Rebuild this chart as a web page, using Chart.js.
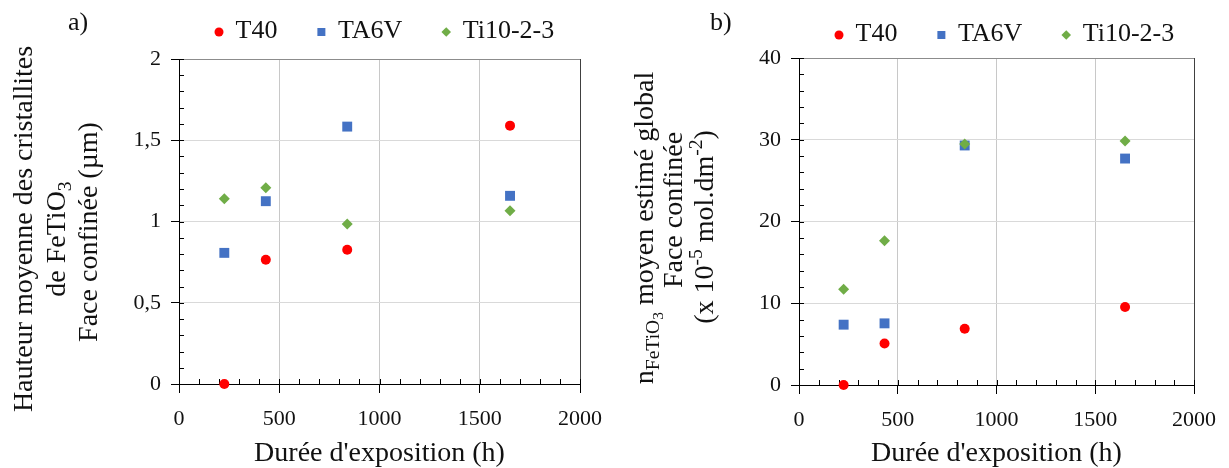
<!DOCTYPE html>
<html>
<head>
<meta charset="utf-8">
<script src="https://cdn.jsdelivr.net/npm/chart.js@4/dist/chart.umd.min.js"></script>
<style>
  html, body { margin: 0; padding: 0; background: #fff; }
  #wrap { position: relative; width: 1229px; height: 468px; }
  canvas { position: absolute; top: 0; }
</style>
</head>
<body>
<div id="wrap">
  <canvas id="c1" width="615" height="468" style="left:0"></canvas>
  <canvas id="c2" width="614" height="468" style="left:615px"></canvas>
</div>
<script>
// Durée d'exposition (h)
const exposition = [226, 433, 839, 1651];
const seriesNames = ["T40", "TA6V", "Ti10-2-3"];

// a) hauteur moyenne des cristallites (µm)
const hauteurT40 = [0, 0.765, 0.826, 1.59];
const hauteurTA6V = [0.807, 1.125, 1.584, 1.158];
const hauteurTi1023 = [1.14, 1.207, 0.984, 1.066];

// b) n FeTiO3 (x 10-5 mol.dm-2)
const nT40 = [0, 5.08, 6.89, 9.55];
const nTA6V = [7.38, 7.54, 29.3, 27.7];
const nTi1023 = [11.72, 17.66, 29.47, 29.84];

const xTicks = [0, 500, 1000, 1500, 2000];
const yTicksA = [0, 0.5, 1, 1.5, 2];
const yTicksB = [0, 10, 20, 30, 40];

const FONT = "'Liberation Serif', 'Times New Roman', serif";
const colors = ["#ff0000", "#4472c4", "#70ad47"];
const styles = ["circle", "rect", "rectRot"];
const radii = [5, 7, 5.5];

function sizeFor(kind, size) {
  if (kind === "sub" || kind === "sup") return size * 0.7;
  if (kind === "subsub") return size * 0.55;
  return size;
}
function shiftFor(kind, size) {
  if (kind === "sub") return size * 0.22;
  if (kind === "subsub") return size * 0.36;
  if (kind === "sup") return -size * 0.38;
  return 0;
}
function richWidth(ctx, parts, size) {
  let w = 0;
  parts.forEach(([t, k]) => {
    ctx.font = sizeFor(k, size) + "px " + FONT;
    w += ctx.measureText(t).width;
  });
  return w;
}
function drawRich(ctx, parts, x, y, size) {
  parts.forEach(([t, k]) => {
    ctx.font = sizeFor(k, size) + "px " + FONT;
    ctx.fillText(t, x, y + shiftFor(k, size));
    x += ctx.measureText(t).width;
  });
}

// titre de l'axe y, sur plusieurs lignes, avec indices
const yTitlePlugin = {
  id: "yTitle",
  afterDraw(chart, args, opts) {
    const ctx = chart.ctx;
    ctx.save();
    ctx.fillStyle = "#111";
    ctx.textBaseline = "alphabetic";
    ctx.textAlign = "left";
    opts.lines.forEach(l => {
      const w = richWidth(ctx, l.parts, opts.size);
      ctx.save();
      ctx.translate(l.x, l.yc);
      ctx.rotate(-Math.PI / 2);
      drawRich(ctx, l.parts, -w / 2, 0, opts.size);
      ctx.restore();
    });
    ctx.font = "26px " + FONT;
    ctx.fillText(opts.panel, opts.panelX, 30);
    ctx.restore();
  }
};

// légende maison, placée au-dessus de la zone de tracé
const legendPlugin = {
  id: "myLegend",
  afterDraw(chart, args, opts) {
    const ctx = chart.ctx;
    const area = chart.chartArea;
    let x = area.left + 40;
    const base = opts.baseline;
    const my = base - 6;
    ctx.save();
    ctx.font = "26px " + FONT;
    ctx.textBaseline = "alphabetic";
    ctx.textAlign = "left";
    chart.data.datasets.forEach((ds, i) => {
      ctx.fillStyle = ds.backgroundColor;
      ctx.beginPath();
      if (ds.pointStyle === "circle") {
        ctx.arc(x, my, 4.5, 0, Math.PI * 2);
      } else if (ds.pointStyle === "rect") {
        ctx.rect(x - 4, my - 4, 8, 8);
      } else {
        ctx.moveTo(x, my - 4.8); ctx.lineTo(x + 4.8, my);
        ctx.lineTo(x, my + 4.8); ctx.lineTo(x - 4.8, my);
        ctx.closePath();
      }
      ctx.fill();
      ctx.fillStyle = "#111";
      const tx = x + 16.5;
      ctx.fillText(ds.label, tx, base);
      x = tx + ctx.measureText(ds.label).width + 44;
    });
    ctx.restore();
  }
};

// petites graduations vers l'intérieur
const minorTicksPlugin = {
  id: "minorTicks",
  beforeDatasetsDraw(chart, args, opts) {
    const ctx = chart.ctx;
    const xs = chart.scales.x, ys = chart.scales.y;
    const a = chart.chartArea;
    ctx.save();
    ctx.strokeStyle = "#000";
    ctx.lineWidth = 1;
    ctx.beginPath();
    for (let v = xs.min; v <= xs.max + 1e-9; v += opts.xStep) {
      const px = Math.round(xs.getPixelForValue(v)) + 0.5;
      ctx.moveTo(px, a.bottom);
      ctx.lineTo(px, a.bottom - 5);
    }
    for (let v = ys.min; v <= ys.max + 1e-9; v += opts.yStep) {
      const py = Math.round(ys.getPixelForValue(v)) + 0.5;
      ctx.moveTo(a.left, py);
      ctx.lineTo(a.left + 5, py);
    }
    ctx.stroke();
    ctx.restore();
  }
};

function makeChart(id, values, yMax, yTicks, opt) {
  const datasets = values.map((vals, i) => ({
    label: seriesNames[i],
    data: exposition.map((x, j) => ({ x: x, y: vals[j] })),
    backgroundColor: colors[i],
    borderColor: colors[i],
    borderWidth: 0,
    pointStyle: styles[i],
    pointRadius: radii[i],
    pointHoverRadius: radii[i],
    clip: false,
    order: [2, 1, 0][i]
  }));
  return new Chart(document.getElementById(id), {
    type: "scatter",
    data: { datasets },
    plugins: [minorTicksPlugin, yTitlePlugin, legendPlugin],
    options: {
      responsive: false,
      animation: false,
      layout: { padding: { top: opt.top, right: opt.right, left: 0, bottom: 0 } },
      plugins: {
        legend: { display: false },
        tooltip: { enabled: false },
        minorTicks: { xStep: 100, yStep: opt.minor },
        yTitle: opt.yTitle,
        myLegend: { baseline: opt.legendBase }
      },
      scales: {
        x: {
          type: "linear",
          min: 0, max: 2000,
          afterFit: s => { s.height = opt.xHeight; },
          afterBuildTicks: s => { s.ticks = xTicks.map(v => ({ value: v })); },
          ticks: {
            font: { family: FONT, size: 22 },
            color: "#111",
            padding: 13,
            maxRotation: 0,
            callback: v => String(v)
          },
          grid: {
            color: c => c.tick.value === 0 ? "rgba(0,0,0,0)" : (c.tick.value === 2000 ? "#404040" : "#c8c8c8"),
            tickColor: "#000",
            tickLength: 9,
            lineWidth: 1
          },
          border: { color: "#000", width: 1 },
          title: {
            display: true,
            text: "Durée d'exposition (h)",
            font: { family: FONT, size: 28, lineHeight: 1 },
            color: "#111",
            padding: 0
          }
        },
        y: {
          type: "linear",
          min: 0, max: yMax,
          afterFit: s => { s.width = opt.yWidth; },
          afterBuildTicks: s => { s.ticks = yTicks.map(v => ({ value: v })); },
          ticks: {
            font: { family: FONT, size: 22 },
            color: "#111",
            padding: 10,
            callback: v => String(v).replace(".", ",")
          },
          grid: {
            color: c => c.tick.value === 0 ? "rgba(0,0,0,0)" : (c.tick.value === yMax ? "#8c8c8c" : "#d9d9d9"),
            tickColor: "#000",
            tickLength: 8,
            lineWidth: 1
          },
          border: { color: "#000", width: 1 }
        }
      }
    }
  });
}

makeChart("c1", [hauteurT40, hauteurTA6V, hauteurTi1023], 2, yTicksA, {
  top: 59, right: 33, xHeight: 84, yWidth: 179, minor: 0.1, legendBase: 38,
  yTitle: {
    size: 28, panel: "a)", panelX: 68,
    lines: [
      { x: 32, yc: 229, parts: [["Hauteur moyenne des cristallites", ""]] },
      { x: 65, yc: 239, parts: [["de FeTiO", ""], ["3", "sub"]] },
      { x: 97, yc: 232, parts: [["Face confinée (µm)", ""]] }
    ]
  }
});

makeChart("c2", [nT40, nTA6V, nTi1023], 40, yTicksB, {
  top: 58, right: 27, xHeight: 83, yWidth: 184, minor: 2, legendBase: 41,
  yTitle: {
    size: 28, panel: "b)", panelX: 95,
    lines: [
      { x: 38, yc: 228, parts: [["n", ""], ["FeTiO", "sub"], ["3", "subsub"], [" moyen estimé global", ""]] },
      { x: 67, yc: 210, parts: [["Face confinée", ""]] },
      { x: 98, yc: 227, parts: [["(x 10", ""], ["-5", "sup"], [" mol.dm", ""], ["-2", "sup"], [")", ""]] }
    ]
  }
});
</script>
</body>
</html>
